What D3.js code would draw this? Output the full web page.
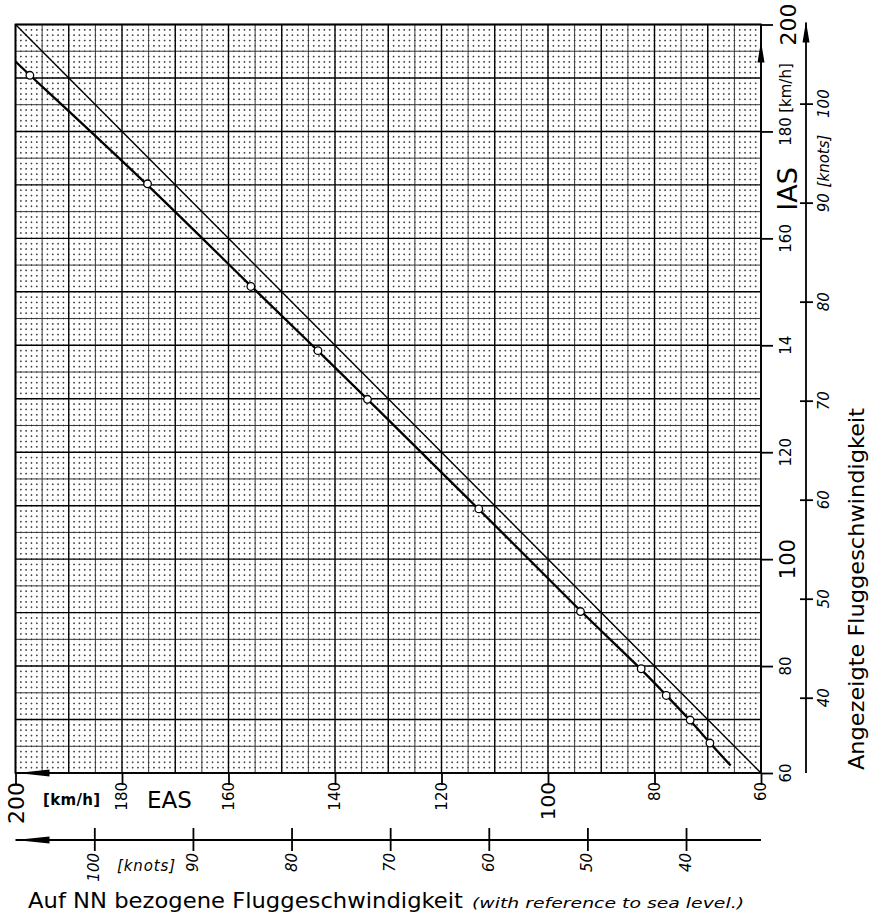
<!DOCTYPE html>
<html><head><meta charset="utf-8">
<script src="https://cdn.jsdelivr.net/npm/d3@7"></script>
<style>body{margin:0;background:#fff}svg{display:block}</style>
</head><body>
<script>
// ---- data (km/h) ----
const easKmh = [197.3, 175.2, 155.8, 143.2, 133.9, 113.0, 93.9, 82.5, 77.8, 73.3, 69.6];
const iasKmh = [190.5, 170.2, 151.0, 139.0, 129.9, 109.4, 90.2, 79.5, 74.5, 69.9, 65.6];
const curveEndsEas = [200, 65.7];
const curveEndsIas = [193.1, 61.4];
const identityEnds = [200, 60];
const kmhTicks = [200, 180, 160, 140, 120, 100, 80, 60];
const bottomTickLabels = ["200", "180", "160", "140", "120", "100", "80", "60"];
const rightTickLabels = ["200", "180", "160", "14", "120", "100", "80", "60"];
const knotsTicks = [100, 90, 80, 70, 60, 50, 40];
const KMH_PER_KT = 1.852;

const W = 869, H = 916;
const svg = d3.select("body").append("svg").attr("width", W).attr("height", H);
svg.append("rect").attr("width", W).attr("height", H).attr("fill", "#fff");

const x = d3.scaleLinear().domain([200, 60]).range([15.5, 761]);
const y = d3.scaleLinear().domain([60, 200]).range([773, 24.5]);
const xk = d3.scaleLinear().domain([200 / KMH_PER_KT, 60 / KMH_PER_KT]).range(x.range());
const yk = d3.scaleLinear().domain([60 / KMH_PER_KT, 200 / KMH_PER_KT]).range(y.range());
const font = "'DejaVu Sans', sans-serif";

// ---- graph paper grid ----
const grid = svg.append("g");
const all = d3.range(60, 201);
const px = Math.abs(x(199) - x(200)), py = Math.abs(y(199) - y(200));
const minor = all.filter(v => v % 5 !== 0);
const mid = all.filter(v => v % 5 === 0 && v % 10 !== 0);
const major = all.filter(v => v % 10 === 0);

grid.selectAll(".vmin").data(minor).join("line")
  .attr("x1", d => x(d)).attr("x2", d => x(d)).attr("y1", y(200)).attr("y2", y(60))
  .attr("stroke", "#444").attr("stroke-width", 1.0)
  .attr("stroke-dasharray", `1.7 ${py - 1.7}`).attr("stroke-dashoffset", 0.85);
grid.selectAll(".hmin").data(minor).join("line")
  .attr("y1", d => y(d)).attr("y2", d => y(d)).attr("x1", x(200)).attr("x2", x(60))
  .attr("stroke", "#444").attr("stroke-width", 1.0)
  .attr("stroke-dasharray", `1.7 ${px - 1.7}`).attr("stroke-dashoffset", 0.85);
grid.selectAll(".vmid").data(mid).join("line")
  .attr("x1", d => x(d)).attr("x2", d => x(d)).attr("y1", y(200)).attr("y2", y(60))
  .attr("stroke", "#222").attr("stroke-width", 0.9);
grid.selectAll(".hmid").data(mid).join("line")
  .attr("y1", d => y(d)).attr("y2", d => y(d)).attr("x1", x(200)).attr("x2", x(60))
  .attr("stroke", "#222").attr("stroke-width", 0.9);
grid.selectAll(".vmaj").data(major).join("line")
  .attr("x1", d => x(d)).attr("x2", d => x(d)).attr("y1", y(200)).attr("y2", y(60))
  .attr("stroke", "#000").attr("stroke-width", 1.4);
grid.selectAll(".hmaj").data(major).join("line")
  .attr("y1", d => y(d)).attr("y2", d => y(d)).attr("x1", x(200)).attr("x2", x(60))
  .attr("stroke", "#000").attr("stroke-width", 1.4);
svg.append("rect").attr("x", x(200)).attr("y", y(200))
  .attr("width", x(60) - x(200)).attr("height", y(60) - y(200))
  .attr("fill", "none").attr("stroke", "#000").attr("stroke-width", 1.8);

// ---- axes (km/h) ----
const bottomAxis = svg.append("g").attr("transform", `translate(0,${y(60)})`)
  .call(d3.axisBottom(x).tickValues(kmhTicks).tickSize(12).tickFormat(""));
const rightAxis = svg.append("g").attr("transform", `translate(${x(60)},0)`)
  .call(d3.axisRight(y).tickValues(kmhTicks).tickSize(12).tickFormat(""));
[bottomAxis, rightAxis].forEach(a => {
  a.select(".domain").remove();
  a.selectAll("line").attr("stroke", "#000").attr("stroke-width", 1.8);
});

function rotText(cx, cy, txt, size, opts = {}) {
  return svg.append("text")
    .attr("transform", `translate(${cx},${cy}) rotate(-90)`)
    .attr("text-anchor", opts.anchor || "middle")
    .attr("dominant-baseline", "central")
    .attr("font-family", font).attr("font-size", size)
    .attr("font-style", opts.italic ? "italic" : "normal")
    .attr("fill", "#000").text(txt);
}
// bottom km/h labels
kmhTicks.forEach((v, i) => {
  rotText(x(v) + (v === 200 ? 1 : 0), y(60) + 9, bottomTickLabels[i], v === 200 ? 22 : (v === 100 ? 20 : 15), { anchor: "end" });
});
// right km/h labels
kmhTicks.forEach((v, i) => {
  const big = v === 200 || v === 100;
  rotText(x(60) + (big ? 27 : 25), y(v), rightTickLabels[i], v === 200 ? 22 : (v === 100 ? 21 : 15));
});
svg.append("text").attr("x", 43).attr("y", 805).attr("font-family", font).attr("font-size", 15)
  .attr("font-weight", "bold").attr("textLength", 57).text("[km/h]");
svg.append("text").attr("x", 147).attr("y", 808).attr("font-family", font).attr("font-size", 23)
  .text("EAS");
rotText(x(60) + 25, 88, "[km/h]", 15);
rotText(x(60) + 26, 189, "IAS", 27);

// arrows on frame
svg.append("path").attr("d", `M${x(200) + 2},${y(60)} L${x(200) + 34},${y(60) - 3.5} L${x(200) + 34},${y(60) + 3.5}Z`).attr("fill", "#000");
svg.append("path").attr("d", `M${x(60)},${y(200) + 17} L${x(60) - 3.5},${y(200) + 38} L${x(60) + 3.5},${y(200) + 38}Z`).attr("fill", "#000");

// ---- knots axes ----
const kY = 840;
const kAxisB = svg.append("g").attr("transform", `translate(0,${kY - 12})`)
  .call(d3.axisBottom(xk).tickValues(knotsTicks).tickSize(23).tickFormat(""));
kAxisB.select(".domain").remove();
kAxisB.selectAll("line").attr("stroke", "#000").attr("stroke-width", 1.8);
svg.append("line").attr("x1", x(200)).attr("x2", x(60)).attr("y1", kY).attr("y2", kY).attr("stroke", "#000").attr("stroke-width", 1.8);
svg.append("path").attr("d", `M${x(200)},${kY} L${x(200) + 34},${kY - 3.5} L${x(200) + 34},${kY + 3.5}Z`).attr("fill", "#000");
knotsTicks.forEach(k => rotText(xk(k), kY + 13, String(k), 15, { anchor: "end", italic: true }));
svg.append("text").attr("x", 117).attr("y", 871).attr("font-family", font).attr("font-size", 15)
  .attr("font-style", "italic").attr("textLength", 58).text("[knots]");

const kX = 806;
const kAxisR = svg.append("g").attr("transform", `translate(${kX - 6},0)`)
  .call(d3.axisRight(yk).tickValues(knotsTicks).tickSize(13).tickFormat(""));
kAxisR.select(".domain").remove();
kAxisR.selectAll("line").attr("stroke", "#000").attr("stroke-width", 1.8);
svg.append("line").attr("x1", kX).attr("x2", kX).attr("y1", y(200) - 2).attr("y2", y(60)).attr("stroke", "#000").attr("stroke-width", 1.8);
svg.append("path").attr("d", `M${kX},${y(200) - 3} L${kX - 3.5},${y(200) + 18} L${kX + 3.5},${y(200) + 18}Z`).attr("fill", "#000");
knotsTicks.forEach(k => rotText(kX + 18, yk(k), String(k), 15, { italic: true }));
rotText(kX + 18, 161, "[knots]", 15, { italic: true });

// ---- titles ----
svg.append("text").attr("x", 28).attr("y", 908).attr("font-family", font).attr("font-size", 21)
  .attr("textLength", 435).attr("lengthAdjust", "spacingAndGlyphs").text("Auf NN bezogene Fluggeschwindigkeit");
svg.append("text").attr("x", 472).attr("y", 908).attr("font-family", font).attr("font-size", 14)
  .attr("font-style", "italic").attr("textLength", 272).attr("lengthAdjust", "spacingAndGlyphs")
  .text("(with reference to sea level.)");
svg.append("text").attr("transform", `translate(857,589) rotate(-90)`).attr("text-anchor", "middle")
  .attr("dominant-baseline", "central").attr("font-family", font).attr("font-size", 21)
  .attr("textLength", 362).attr("lengthAdjust", "spacingAndGlyphs").text("Angezeigte Fluggeschwindigkeit");

// ---- data lines ----
svg.append("line")
  .attr("x1", x(identityEnds[0])).attr("y1", y(identityEnds[0]))
  .attr("x2", x(identityEnds[1])).attr("y2", y(identityEnds[1]))
  .attr("stroke", "#000").attr("stroke-width", 1.4);
const pts = easKmh.map((e, i) => [e, iasKmh[i]]);
const curvePts = [[curveEndsEas[0], curveEndsIas[0]], ...pts, [curveEndsEas[1], curveEndsIas[1]]];
svg.append("path").datum(curvePts)
  .attr("d", d3.line().x(d => x(d[0])).y(d => y(d[1])).curve(d3.curveBasis))
  .attr("fill", "none").attr("stroke", "#000").attr("stroke-width", 2.3);
svg.selectAll(".pt").data(pts).join("circle")
  .attr("cx", d => x(d[0])).attr("cy", d => y(d[1])).attr("r", 3.8)
  .attr("fill", "#fff").attr("stroke", "#000").attr("stroke-width", 1.3);
</script>
</body></html>
